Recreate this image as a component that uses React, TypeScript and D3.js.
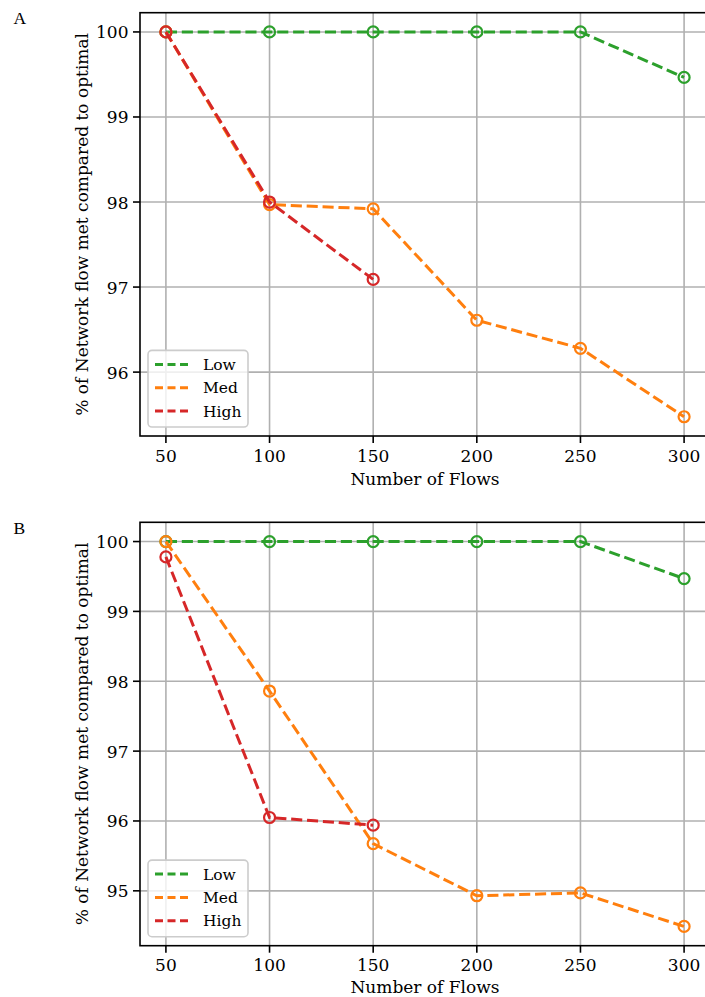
import React from "react";
import * as d3 from "d3";

const flows = [50, 100, 150, 200, 250, 300];
const seriesNames = ["Low", "Med", "High"];
const seriesColors = ["#2ca02c", "#ff7f0e", "#d62728"];

const lowA = [100, 100, 100, 100, 100, 99.465];
const medA = [100, 97.97, 97.92, 96.61, 96.28, 95.475];
const highA = [100, 98.0, 97.09];

const lowB = [100, 100, 100, 100, 100, 99.47];
const medB = [100, 97.86, 95.675, 94.93, 94.97, 94.49];
const highB = [99.78, 96.05, 95.94];

const xTicks = [50, 100, 150, 200, 250, 300];
const xLabel = "Number of Flows";
const yLabel = "% of Network flow met compared to optimal";

const FONT = "'DejaVu Serif', serif";
const FS = 17;
const LFS = 15.5;

type PanelProps = {
  label: string;
  series: number[][];
  top: number;
  bottom: number;
};

function Panel({ label, series, top, bottom }: PanelProps) {
  const left = 140;
  const right = 710;
  const xMin = d3.min(flows)!;
  const xMax = d3.max(flows)!;
  const xPad = (xMax - xMin) * 0.05;
  const x = d3.scaleLinear().domain([xMin - xPad, xMax + xPad]).range([left, right]);
  const all = series.flat();
  const yMin = d3.min(all)!;
  const yMax = d3.max(all)!;
  const yPad = (yMax - yMin) * 0.05;
  const y = d3.scaleLinear().domain([yMin - yPad, yMax + yPad]).range([bottom, top]);
  const yTicks = d3.range(Math.ceil(yMin - yPad), Math.floor(yMax + yPad) + 1);
  const line = d3
    .line<number>()
    .x((_, i) => x(flows[i]))
    .y((d) => y(d));

  const legX = 148;
  const legW = 100;
  const legRowH = 23.3;
  const legH = 76.6;
  const legTop = bottom - 9 - legH;

  return (
    <g>
      <text x={13.5} y={top + 11.5} fontFamily="'Liberation Serif', serif" fontSize={17.5}>
        {label}
      </text>
      {xTicks.map((t) => (
        <line key={"gx" + t} x1={x(t)} x2={x(t)} y1={top} y2={bottom} stroke="#b0b0b0" strokeWidth={1.6} />
      ))}
      {yTicks.map((t) => (
        <line key={"gy" + t} x1={left} x2={right} y1={y(t)} y2={y(t)} stroke="#b0b0b0" strokeWidth={1.6} />
      ))}
      {series.map((s, si) => (
        <g key={"s" + si}>
          <path
            d={line(s) || ""}
            fill="none"
            stroke={seriesColors[si]}
            strokeWidth={3}
            strokeDasharray="11.1 4.8"
          />
          {s.map((v, i) => (
            <circle
              key={i}
              cx={x(flows[i])}
              cy={y(v)}
              r={5.5}
              fill="none"
              stroke={seriesColors[si]}
              strokeWidth={2.2}
            />
          ))}
        </g>
      ))}
      <rect x={left} y={top} width={right - left} height={bottom - top} fill="none" stroke="#000" strokeWidth={1.6} />
      {xTicks.map((t) => (
        <g key={"xt" + t}>
          <line x1={x(t)} x2={x(t)} y1={bottom} y2={bottom + 7} stroke="#000" strokeWidth={1.6} />
          <text x={x(t)} y={bottom + 25.7} textAnchor="middle" fontFamily={FONT} fontSize={FS}>
            {t}
          </text>
        </g>
      ))}
      {yTicks.map((t) => (
        <g key={"yt" + t}>
          <line x1={left - 7} x2={left} y1={y(t)} y2={y(t)} stroke="#000" strokeWidth={1.6} />
          <text x={left - 11.5} y={y(t) + 6.5} textAnchor="end" fontFamily={FONT} fontSize={FS}>
            {t}
          </text>
        </g>
      ))}
      <text
        x={(left + right) / 2}
        y={Math.min(bottom + 49, 992.5)}
        textAnchor="middle"
        fontFamily={FONT}
        fontSize={FS}
      >
        {xLabel}
      </text>
      <text
        transform={`translate(${88},${(top + bottom) / 2}) rotate(-90)`}
        textAnchor="middle"
        fontFamily={FONT}
        fontSize={FS}
      >
        {yLabel}
      </text>
      <rect
        x={legX}
        y={legTop}
        width={legW}
        height={legH}
        rx={4}
        fill="#fff"
        fillOpacity={0.8}
        stroke="#cccccc"
        strokeWidth={1.6}
      />
      {seriesNames.map((n, i) => {
        const cy = legTop + 14 + i * legRowH;
        return (
          <g key={"lg" + n}>
            <line
              x1={legX + 7}
              x2={legX + 42}
              y1={cy}
              y2={cy}
              stroke={seriesColors[i]}
              strokeWidth={3}
              strokeDasharray="8 4.5"
            />
            <text x={legX + 55} y={cy + 5.5} fontFamily={FONT} fontSize={LFS}>
              {n}
            </text>
          </g>
        );
      })}
    </g>
  );
}

export default function App() {
  return (
    <svg
      width={705}
      height={997}
      style={{ position: "absolute", left: 0, top: 0, background: "#fff" }}
    >
      <rect width={705} height={997} fill="#fff" />
      <Panel label="A" series={[lowA, medA, highA]} top={12.7} bottom={436} />
      <Panel label="B" series={[lowB, medB, highB]} top={522.3} bottom={945.7} />
    </svg>
  );
}
